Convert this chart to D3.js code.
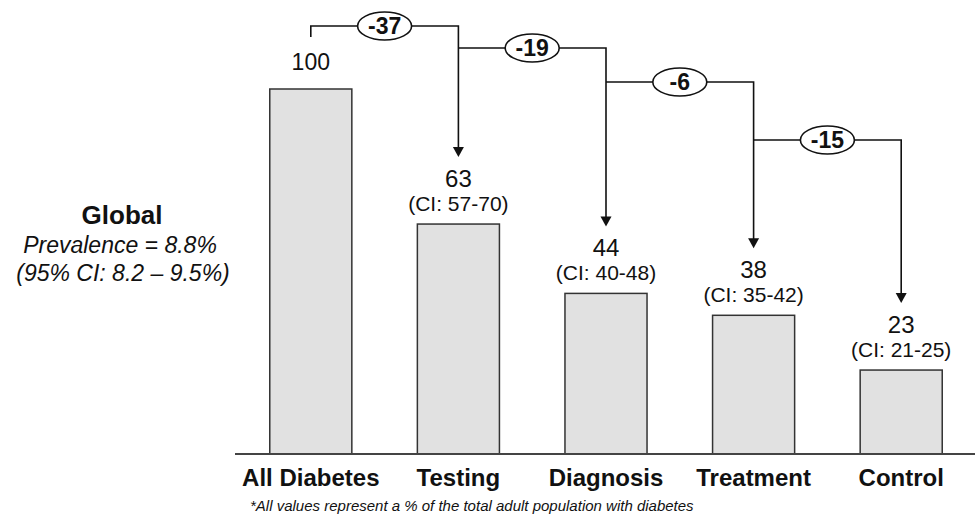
<!DOCTYPE html>
<html>
<head>
<meta charset="utf-8">
<script src="https://cdn.jsdelivr.net/npm/d3@7"></script>
<style>
  html, body { margin: 0; padding: 0; background: #fff; }
  svg { display: block; font-family: Arial, 'Liberation Sans', Helvetica, sans-serif; }
</style>
</head>
<body>
<svg id="chart" width="975" height="529"></svg>
<script>
const categories = ['All Diabetes', 'Testing', 'Diagnosis', 'Treatment', 'Control'];
const values = [100, 63, 44, 38, 23];
const ciLabels = ['', '(CI: 57-70)', '(CI: 40-48)', '(CI: 35-42)', '(CI: 21-25)'];
const drops = [-37, -19, -6, -15];
const globalLines = ['Global', 'Prevalence = 8.8%', '(95% CI: 8.2 \u2013 9.5%)'];
const footnote = '*All values represent a % of the total adult population with diabetes';

const svg = d3.select('#chart');
const ink = '#111';

const x = d3.scaleBand().domain(categories).range([237, 975]).paddingInner(0.444).paddingOuter(0.222);
const y = d3.scaleLinear().domain([0, 100]).range([454, 89]);
const cx = (c) => x(c) + x.bandwidth() / 2;

// bars
svg.append('g').selectAll('rect').data(values).join('rect')
  .attr('x', (d, i) => x(categories[i]))
  .attr('y', d => y(d))
  .attr('width', x.bandwidth())
  .attr('height', d => y(0) - y(d))
  .attr('fill', '#e1e1e1')
  .attr('stroke', '#333')
  .attr('stroke-width', 1.5);

// axis + category labels
const axis = svg.append('g').attr('transform', `translate(0,${y(0)})`)
  .call(d3.axisBottom(x).tickSize(0).tickPadding(15));
axis.select('.domain').attr('stroke', '#444').attr('stroke-width', 2).attr('d', 'M235,0H975');
axis.selectAll('text').attr('font-size', 24).attr('font-weight', 'bold').attr('fill', ink)
  .attr('font-family', "Arial, 'Liberation Sans', Helvetica, sans-serif");

// value + CI labels
const lab = svg.append('g').attr('text-anchor', 'middle').attr('fill', ink);
values.forEach((v, i) => {
  const c = categories[i];
  lab.append('text').attr('x', cx(c)).attr('y', y(v) - (ciLabels[i] ? 37 : 19))
    .attr('font-size', ciLabels[i] ? 24 : 23).text(v);
  if (ciLabels[i]) {
    lab.append('text').attr('x', cx(c)).attr('y', y(v) - 13).attr('font-size', 21).text(ciLabels[i]);
  }
});

// drop connectors
const levelY = [26, 48, 82, 140];
const conn = svg.append('g');
drops.forEach((d, i) => {
  const x0 = cx(categories[i]);
  const x1 = cx(categories[i + 1]);
  const ly = levelY[i];
  const tip = y(values[i + 1]) - 67;
  const start = i === 0 ? `M${x0},${ly + 11}V${ly}` : `M${x0},${ly}`;
  conn.append('path')
    .attr('d', `${start}H${x1}V${tip - 9}`)
    .attr('fill', 'none').attr('stroke', ink).attr('stroke-width', 1.6);
  conn.append('path')
    .attr('d', `M${x1 - 5.5},${tip - 10}L${x1 + 5.5},${tip - 10}L${x1},${tip}Z`)
    .attr('fill', ink);
  const mx = (x0 + x1) / 2;
  conn.append('ellipse').attr('cx', mx).attr('cy', ly).attr('rx', 27).attr('ry', 14)
    .attr('fill', '#fff').attr('stroke', ink).attr('stroke-width', 1.6);
  conn.append('text').attr('x', mx).attr('y', ly + 8).attr('text-anchor', 'middle')
    .attr('font-size', 23).attr('font-weight', 'bold').attr('fill', ink).text(d);
});

// global prevalence note
const note = svg.append('g').attr('text-anchor', 'middle').attr('fill', ink);
note.append('text').attr('x', 122).attr('y', 224).attr('font-size', 26).attr('font-weight', 'bold').text(globalLines[0]);
note.append('text').attr('x', 120).attr('y', 253).attr('font-size', 23).attr('font-style', 'italic').text(globalLines[1]);
note.append('text').attr('x', 123).attr('y', 281).attr('font-size', 23).attr('font-style', 'italic').text(globalLines[2]);

// footnote
svg.append('text').attr('x', 250).attr('y', 511).attr('font-size', 15).attr('font-style', 'italic')
  .attr('fill', ink).text(footnote);
</script>
</body>
</html>
